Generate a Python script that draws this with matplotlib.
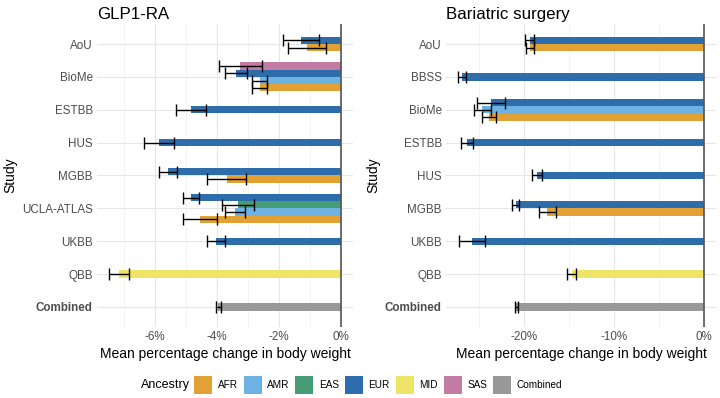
import matplotlib.pyplot as plt
from matplotlib.patches import Patch

plt.rcParams['font.family'] = ['Liberation Sans', 'DejaVu Sans']

# colours per ancestry
anc_colors = {
    'AFR': '#E2A135', 'AMR': '#6CB3E3', 'EAS': '#459C75', 'EUR': '#2E6DAC',
    'MID': '#EFE465', 'SAS': '#C27BA2', 'Combined': '#999999',
}

# GLP1-RA panel (rows listed top to bottom inside each study)
glp_studies = ['AoU', 'BioMe', 'ESTBB', 'HUS', 'MGBB', 'UCLA-ATLAS', 'UKBB', 'QBB', 'Combined']
glp_study = ['AoU', 'AoU', 'BioMe', 'BioMe', 'BioMe', 'BioMe', 'ESTBB', 'HUS', 'MGBB', 'MGBB',
             'UCLA-ATLAS', 'UCLA-ATLAS', 'UCLA-ATLAS', 'UCLA-ATLAS', 'UKBB', 'QBB', 'Combined']
glp_anc = ['EUR', 'AFR', 'SAS', 'EUR', 'AMR', 'AFR', 'EUR', 'EUR', 'EUR', 'AFR',
           'EUR', 'EAS', 'AMR', 'AFR', 'EUR', 'MID', 'Combined']
glp_mean = [-1.29, -1.10, -3.25, -3.39, -2.63, -2.63, -4.84, -5.88, -5.58, -3.69,
            -4.84, -3.33, -3.43, -4.55, -4.03, -7.16, -3.97]
glp_err = [0.58, 0.61, 0.69, 0.35, 0.23, 0.24, 0.49, 0.49, 0.30, 0.63,
           0.26, 0.52, 0.33, 0.55, 0.29, 0.32, 0.08]

# Bariatric surgery panel
bar_studies = ['AoU', 'BBSS', 'BioMe', 'ESTBB', 'HUS', 'MGBB', 'UKBB', 'QBB', 'Combined']
bar_study = ['AoU', 'AoU', 'BBSS', 'BioMe', 'BioMe', 'BioMe', 'ESTBB', 'HUS', 'MGBB', 'MGBB',
             'UKBB', 'QBB', 'Combined']
bar_anc = ['EUR', 'AFR', 'EUR', 'EUR', 'AMR', 'AFR', 'EUR', 'EUR', 'EUR', 'AFR',
           'EUR', 'MID', 'Combined']
bar_mean = [-19.4, -19.35, -26.9, -23.7, -24.65, -23.9, -26.4, -18.6, -20.95, -17.4,
            -25.8, -14.7, -20.85]
bar_err = [0.45, 0.45, 0.45, 1.55, 0.95, 0.8, 0.67, 0.54, 0.43, 0.92,
           1.48, 0.48, 0.18]

W, H = 720, 398
fig = plt.figure(figsize=(W / 100, H / 100), dpi=100)


def px_axes(x0, x1, y0, y1):
    return fig.add_axes([x0 / W, 1 - y1 / H, (x1 - x0) / W, (y1 - y0) / H])


def draw_panel(ax, title, studies, study, anc, mean, err, xlim, major, minor):
    bh = 0.22
    for k, s in enumerate(studies):
        idx = [i for i in range(len(study)) if study[i] == s]
        n = len(idx)
        for j, i in enumerate(idx):
            y = k + (j - (n - 1) / 2) * bh
            ax.barh(y, mean[i], height=bh, color=anc_colors[anc[i]], zorder=2)
            ax.errorbar(mean[i], y, xerr=err[i], fmt='none', ecolor='black',
                        elinewidth=1.0, capsize=4.6, capthick=1.0, zorder=3)
    ax.axvline(0, color='#555555', lw=1.2, zorder=4)
    ax.set_xlim(*xlim)
    ax.set_ylim(len(studies) - 0.4, -0.6)
    ax.set_yticks(range(len(studies)))
    ax.set_yticklabels(studies)
    for lab in ax.get_yticklabels():
        if lab.get_text() == 'Combined':
            lab.set_fontweight('bold')
    ax.set_xticks(major)
    ax.set_xticklabels(['%d%%' % v if v == 0 else '-%d%%' % abs(v) for v in major])
    ax.set_xticks(minor, minor=True)
    ax.tick_params(axis='both', length=0, labelsize=8.4, labelcolor='#4D4D4D', pad=3)
    ax.tick_params(axis='x', which='minor', length=0)
    ax.grid(True, which='major', color='#E6E6E6', lw=0.8, zorder=0)
    ax.grid(True, which='minor', axis='x', color='#EFEFEF', lw=0.5, zorder=0)
    ax.set_axisbelow(True)
    for sp in ax.spines.values():
        sp.set_visible(False)
    ax.set_xlabel('Mean percentage change in body weight', fontsize=10.0, labelpad=3)
    ax.set_ylabel('Study', fontsize=10.0)
    ax.set_title(title, loc='left', fontsize=12.2, pad=4)


ax1 = px_axes(97, 353, 24.3, 326.7)
draw_panel(ax1, 'GLP1-RA', glp_studies, glp_study, glp_anc, glp_mean, glp_err,
           (-7.87, 0.38), [-6, -4, -2, 0], [-7, -5, -3, -1])
ax1.yaxis.set_label_coords(-0.31, 0.5)

ax2 = px_axes(446, 716, 24.3, 326.7)
draw_panel(ax2, 'Bariatric surgery', bar_studies, bar_study, bar_anc, bar_mean, bar_err,
           (-28.7, 1.37), [-20, -10, 0], [-25, -15, -5])
ax2.yaxis.set_label_coords(-0.245, 0.5)

# legend with title on the left
order = ['AFR', 'AMR', 'EAS', 'EUR', 'MID', 'SAS', 'Combined']
handles = [Patch(facecolor=anc_colors[a], edgecolor='none', label=a) for a in order]
fig.text(141 / W, 1 - 385 / H, 'Ancestry', fontsize=9.0, va='center', ha='left')
fig.legend(handles=handles, loc='center left', bbox_to_anchor=(194 / W, 1 - 385 / H),
           ncol=len(order), frameon=False, fontsize=7.2, handlelength=1.8,
           handleheight=2.4, handletextpad=0.55, columnspacing=0.6, borderpad=0,
           borderaxespad=0)

fig.savefig('out.png', dpi=100)
